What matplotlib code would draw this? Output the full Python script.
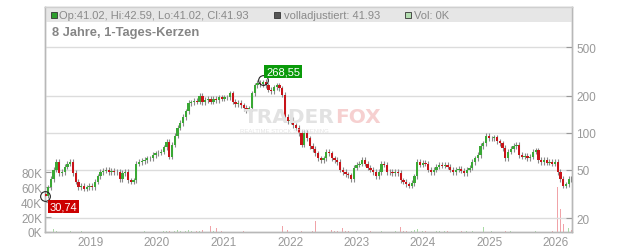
import matplotlib
matplotlib.use("Agg")
import matplotlib.pyplot as plt
import matplotlib.dates as mdates
from matplotlib.patches import Rectangle
import numpy as np
import pandas as pd

# ---------------- data ----------------
start_date = "2018-04-28"
end_date = "2026-03-27"
closes = [30.74, 36, 42, 50, 58, 47, 48, 53, 56, 58,
          47, 40, 36, 37, 35, 36, 37, 36, 40, 44,
          48, 49, 50, 48, 49, 48, 48, 42, 47, 48,
          41, 40, 41, 56, 58, 59, 60, 62, 62, 66,
          68, 69, 70, 76, 84, 64, 80, 95, 110, 120,
          135, 150, 175, 178, 182, 180, 200, 178, 185, 190,
          180, 190, 185, 195, 190, 195, 195, 210, 180, 172,
          175, 168, 160, 152, 158, 210, 245, 255, 250, 262,
          245, 225, 220, 235, 245, 230, 205, 135, 125, 128,
          115, 110, 100, 80, 100, 90, 78, 74, 68, 62,
          60, 62, 70, 68, 62, 60, 58, 50, 48, 46,
          45, 42, 52, 55, 56, 60, 56, 52, 50, 48,
          44, 48, 56, 55, 48, 48, 47, 48, 47, 41,
          40, 38, 37, 39, 44, 58, 55, 57, 56, 50,
          48, 50, 53, 55, 54, 55, 53, 50, 48, 50,
          51, 49, 47, 50, 52, 58, 62, 66, 78, 82,
          95, 90, 90, 92, 85, 82, 75, 62, 70, 74,
          78, 80, 66, 64, 65, 62, 64, 70, 72, 60,
          58, 60, 57, 58, 56, 58, 48, 42, 37, 38,
          42, 41.93]
first_open = 31.5
peak_index = 79
peak_high = 268.55
low_index = 0
low_value = 30.74

volumes_k = [0, 4, 3, 4, 2, 0, 1, 0, 0, 1,
             0, 0, 0, 1, 0, 0, 0, 0, 1, 0,
             0, 0, 0, 0, 0, 0, 3, 0, 0, 0,
             0, 0, 0, 0, 0, 0, 1, 0, 0, 0,
             0, 0, 0, 1, 2, 1, 2, 1, 3, 2,
             2, 1, 3, 1, 0, 1, 2, 3, 2, 4,
             8, 2, 5, 1, 2, 0, 0, 2, 0, 0,
             0, 0, 1, 0, 0, 1, 0, 0, 0, 0,
             0, 0, 0, 1, 0, 0, 8, 4, 3, 0,
             0, 1, 0, 1, 0, 0, 0, 1, 15, 1,
             0, 0, 0, 2, 3, 2, 1, 6, 5, 2,
             1, 3, 0, 1, 0, 1, 10, 0, 1, 0,
             1, 0, 1, 0, 1, 0, 0, 1, 0, 7,
             1, 2, 2, 1, 3, 4, 1, 2, 1, 0,
             1, 0, 1, 2, 0, 1, 1, 0, 1, 0,
             0, 1, 0, 1, 0, 1, 0, 0, 0, 7,
             1, 0, 1, 0, 1, 0, 0, 1, 0, 1,
             0, 0, 0, 0, 0, 0, 0, 0, 1, 0,
             0, 0, 0, 0, 2, 4, 60, 31, 11, 45,
             5, 3]

price_ticks = [20, 50, 100, 200, 500]
vol_ticks = [0, 20, 40, 60, 80]
year_ticks = list(range(2019, 2027))
header_items = ["Op:41.02, Hi:42.59, Lo:41.02, Cl:41.93",
                "volladjustiert: 41.93", "Vol: 0K"]
title_text = "8 Jahre, 1-Tages-Kerzen"
peak_label = "268,55"
low_label = "30,74"

# ---------------- figure ----------------
W, H = 632, 253
fig = plt.figure(figsize=(W / 100, H / 100), dpi=100)
plt.rcParams['font.family'] = ['Liberation Sans', 'DejaVu Sans']

L, R, T, B = 45, 572, 8.3, 233
pos = [L / W, (H - B) / H, (R - L) / W, (B - T) / H]
axv = fig.add_axes(pos)
axp = axv.twinx()

dates = pd.date_range(start_date, end_date, periods=len(closes))
x = mdates.date2num(dates)
c = np.array(closes, dtype=float)
o = np.concatenate([[first_open], c[:-1]])
hi = np.maximum(o, c) * 1.05
lo = np.minimum(o, c) * 0.95
hi[peak_index] = peak_high
lo[low_index] = low_value
up = c >= o

green = "#3aa835"
red = "#c8141a"

xlim = (mdates.date2num(pd.Timestamp("2018-04-26")),
        mdates.date2num(pd.Timestamp("2026-03-30")))
year_pos = [mdates.date2num(pd.Timestamp(f"{y}-01-01")) for y in year_ticks]

# volume
vcol = np.where(up, "#a9dba5", "#f0a3a8")
axv.bar(x, np.array(volumes_k) * 1000, width=4, color=vcol, zorder=2)
axv.set_ylim(0, 300000)
axv.set_yticks([v * 1000 for v in vol_ticks])
axv.set_yticklabels([f"{v}K" for v in vol_ticks])
axv.set_xlim(*xlim)
axv.set_xticks(year_pos)
axv.set_xticklabels([str(y) for y in year_ticks])

# price
axp.set_yscale("log")
axp.set_ylim(15.5, 1057)
axp.set_xlim(*xlim)
axp.vlines(x, lo, hi, color="#8a8a8a", linewidth=0.8, zorder=3)
body_bottom = np.minimum(o, c)
body_h = np.abs(c - o)
axp.bar(x, body_h, bottom=body_bottom, width=12.5,
        color=np.where(up, green, red), linewidth=0, zorder=4)

axp.set_yticks(price_ticks)
axp.set_yticklabels([str(v) for v in price_ticks])
axp.yaxis.set_minor_locator(matplotlib.ticker.NullLocator())
axp.set_xticks(year_pos)

# grid
axp.grid(True, which="major", color="#dcdcdc", linewidth=1.0)
axp.set_axisbelow(True)
axv.grid(False)

for a in (axv, axp):
    for s in a.spines.values():
        s.set_color("#b8b8b8")
        s.set_linewidth(1.0)
axp.spines["top"].set_color("#cfcfcf")

axp.tick_params(axis="y", direction="in", length=4, color="#999999",
                labelcolor="#999999", labelsize=8.5, pad=3)
axv.tick_params(axis="y", direction="in", length=4, color="#999999",
                labelcolor="#999999", labelsize=8.5, pad=2)
axv.tick_params(axis="x", length=0, labelcolor="#999999", labelsize=8.5, pad=3)
axp.tick_params(axis="x", length=0)

# header band
band_h = (22.7 - 8.3) / (B - T)
axp.add_patch(Rectangle((0, 1 - band_h), 1, band_h, transform=axp.transAxes,
                        facecolor="#e6e6e6", edgecolor="none", zorder=0.2))

ty = 1 - 15.7 / H
sq = [(50.5, "#2e9e2e"), (274, "#555555"), (405, "#b3ddb0")]
tx = [59, 284, 414]
for (sx, scol), txt, tpx in zip(sq, header_items, tx):
    fig.patches.append(Rectangle((sx / W, (H - 19) / H), 6 / W, 6.5 / H,
                                 transform=fig.transFigure, facecolor=scol,
                                 edgecolor="#333333", linewidth=0.6, zorder=5))
    fig.text(tpx / W, ty, txt, fontsize=8, color="#8a8a8a", va="center", ha="left")

fig.text(52 / W, 1 - 33 / H, title_text, fontsize=9.3, fontweight="bold",
         color="#858585", va="center", ha="left")

# watermark
wm_font = ["DejaVu Sans"]
fig.text(335 / W, 1 - 118 / H, "TRADER", fontsize=14.5, fontweight="bold",
         family=wm_font, color="#e2e2e2", ha="right", va="center", zorder=0.5)
fig.text(335 / W, 1 - 118 / H, "FOX", fontsize=14.5, fontweight="bold",
         family=wm_font, color="#f6d0d0", ha="left", va="center", zorder=0.5)
fig.text(284 / W, 1 - 131.5 / H, "REALTIME STOCK SCREENING", fontsize=4.3,
         color="#e4e4e4", ha="center", va="center", zorder=0.5)

# markers and labels
xp, yp = x[peak_index], hi[peak_index]
axp.plot([xp], [yp], marker="o", markersize=7, markerfacecolor="none",
         markeredgecolor="#222222", markeredgewidth=0.8, zorder=6)
axp.annotate(peak_label, (xp, yp), xytext=(3, 4), textcoords="offset pixels",
             fontsize=8, color="white", ha="left", va="bottom", zorder=7,
             bbox=dict(boxstyle="square,pad=0.15", facecolor="#0a9a0a",
                       edgecolor="none"))
xl, yl = x[low_index], lo[low_index]
axp.plot([xl], [yl], marker="o", markersize=7, markerfacecolor="none",
         markeredgecolor="#222222", markeredgewidth=0.8, zorder=6, clip_on=False)
axp.annotate(low_label, (xl, yl), xytext=(4, -6), textcoords="offset pixels",
             fontsize=8, color="white", ha="left", va="top", zorder=7,
             bbox=dict(boxstyle="square,pad=0.15", facecolor="#cc0000",
                       edgecolor="none"))

fig.savefig("out.png", dpi=100)
